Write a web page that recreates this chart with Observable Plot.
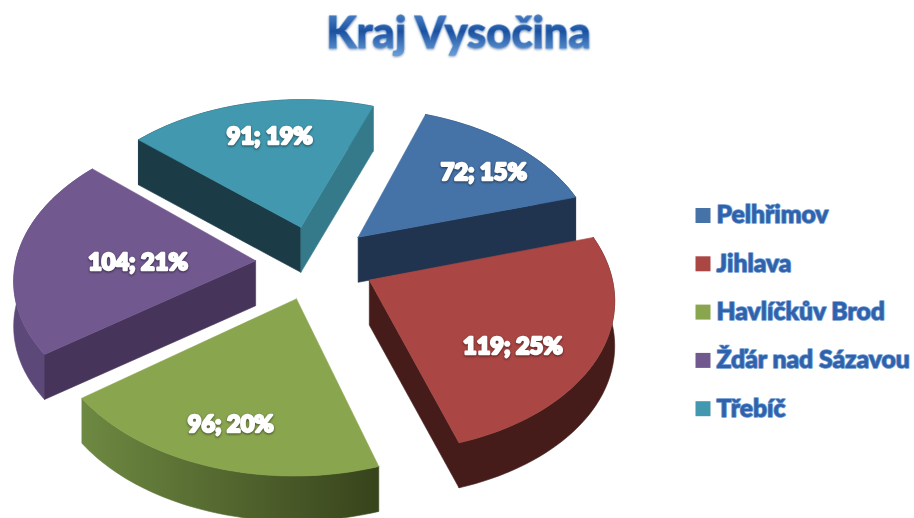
<!DOCTYPE html>
<html><head><meta charset="utf-8">
<script src="https://cdn.jsdelivr.net/npm/d3@7"></script>
<script src="https://cdn.jsdelivr.net/npm/@observablehq/plot@0.6"></script>
<style>
html,body{margin:0;padding:0;background:#fff}
svg{display:block;background:#fff}
.lbl{filter:drop-shadow(0 1px 1px rgba(0,0,0,.55))}
.ttl{filter:drop-shadow(0 1px 1px rgba(40,70,120,.5))}
</style></head><body>
<script>
const categories = ["Pelhřimov","Jihlava","Havlíčkův Brod","Žďár nad Sázavou","Třebíč"];
const values = [72,119,96,104,91];
const percents = [15,25,20,21,19];
const topColors = ["#4572A7","#AA4643","#89A54E","#71588F","#4198AF"];
const startWall = ["#20344f","#451c1a","#38441c","#46345a","#1b3b47"];
const endWall   = ["#20344f","#451c1a","#38441c","#46345a","#347a8a"];
const rimColors = ["#20344f","#451c1a","url(#gg)","#5c4879","#1b3b47"];
const labelFraction = [0.74,0.69,0.77,0.49,0.71];
const labelTurn = [4,9,0,-4,2.5];

// pie projection
const W=914,H=518, cx=315,cy=262, A=240,B=149,P=0.11, DEPTH=45, START=19.5, EXPLODE=0.25, N=48;
const rad=d=>d*Math.PI/180;
const total=d3.sum(values);
function proj(X,Y){const w=1+P*Y;return [cx+A*X/w, cy-B*Y/w];}
function pt(apexW,t,r){return proj(apexW[0]+r*Math.sin(rad(t)),apexW[1]+r*Math.cos(rad(t)));}

const faces=[]; let fid=0;
function poly(pts,color){const id=fid++;[...pts,pts[0]].forEach(p=>faces.push({id,x:p[0],y:p[1],color}));}
const labels=[];
let a=START;
const slices=values.map((v,i)=>{const s=a,e=a+v/total*360;a=e;return{i,s,e,m:(s+e)/2};});
const order=[4,0,3,2,1];
const down=p=>[p[0],p[1]+DEPTH];
for(const k of order){
  const {s,e,m,i}=slices[k];
  const ap=[EXPLODE*Math.sin(rad(m)),EXPLODE*Math.cos(rad(m))];
  const c0=proj(ap[0],ap[1]);
  const rim=d3.range(N+1).map(j=>pt(ap,s+(e-s)*j/N,1));
  poly([...rim,...rim.slice().reverse().map(down)],rimColors[i]);
  const wall=(p,col)=>poly([c0,p,down(p),down(c0)],col);
  if(rim[0][0]<c0[0]) wall(rim[0],startWall[i]);
  if(rim[N][0]>c0[0]) wall(rim[N],endWall[i]);
  poly([c0,...rim],topColors[i]);
  const lp=pt(ap,m+labelTurn[i],labelFraction[i]);
  labels.push({x:lp[0],y:lp[1],text:`${values[i]}; ${percents[i]}%`});
}
const legend=categories.map((name,i)=>({name,color:topColors[i],y:215+i*48.3}));

const chart=Plot.plot({
  width:W,height:H,margin:0,
  x:{domain:[0,W],range:[0,W],axis:null},
  y:{domain:[0,H],range:[0,H],axis:null},
  color:{type:"identity"},
  marks:[
    Plot.line(faces,{x:"x",y:"y",z:"id",fill:"color",stroke:"color",strokeWidth:0.6,curve:"linear"}),
    Plot.text(labels,{x:"x",y:"y",text:"text",fill:"#fff",stroke:"#fff",strokeWidth:2.4,fontFamily:"Lato",fontWeight:900,fontSize:23.5,className:"lbl"}),
    Plot.text(["Kraj Vysočina"],{x:()=>458,y:()=>34,text:d=>d,fill:"url(#tg)",stroke:"#6f9fd6",strokeWidth:1.4,fontFamily:"Lato",fontWeight:900,fontSize:43.5,paintOrder:"stroke",className:"ttl"}),
    Plot.dot(legend,{x:()=>702.5,y:"y",symbol:"square",r:8.46,fill:"color",stroke:null}),
    Plot.text(legend,{x:()=>716,y:"y",text:"name",textAnchor:"start",fill:"#2f62aa",stroke:"#6a98d2",strokeWidth:1.6,paintOrder:"stroke",fontFamily:"Lato",fontWeight:900,fontSize:24.7})
  ]
});
d3.select(chart).insert("defs",":first-child").html('<linearGradient id="tg" x1="0" y1="0" x2="0" y2="1"><stop offset="0" stop-color="#5f94d6"/><stop offset="0.5" stop-color="#1c51a0"/><stop offset="1" stop-color="#6ea4de"/></linearGradient><linearGradient id="gg" gradientUnits="userSpaceOnUse" x1="78" y1="0" x2="375" y2="0"><stop offset="0" stop-color="#6e8a42"/><stop offset="1" stop-color="#38441c"/></linearGradient>');
document.body.appendChild(chart);
</script>
</body></html>
